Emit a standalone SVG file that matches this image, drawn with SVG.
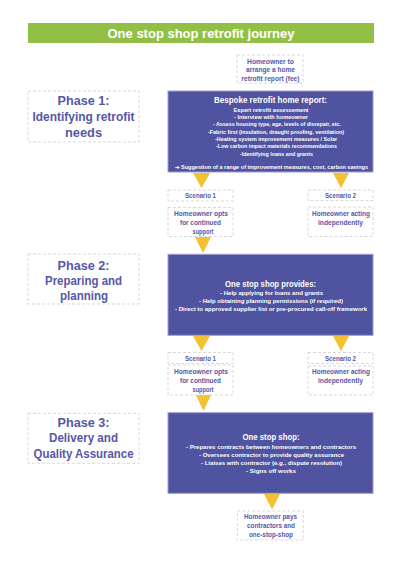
<svg xmlns="http://www.w3.org/2000/svg" width="402" height="569" viewBox="0 0 402 569">
<style>
text{font-family:"Liberation Sans",Arial,sans-serif;font-weight:bold;text-anchor:middle}
.dash{fill:#ffffff;stroke:#cfcfd4;stroke-width:0.8;stroke-dasharray:3 2}
.main{fill:#5053a0;stroke:#9c9ecd;stroke-width:1}
.tri{fill:#f2c232}
.ph{fill:#5558a8;font-size:12px}
.lt{fill:#5558a8;font-size:6.5px}
.wt{fill:#ffffff}
.h{font-size:9px}
.s{font-size:5px}
</style>
<rect width="402" height="569" fill="#ffffff"/>
<g id="title">
<rect x="28" y="23" width="346" height="20" fill="#92c047"/>
<text x="201" y="37.5" fill="#ffffff" font-size="12.5" textLength="187" lengthAdjust="spacingAndGlyphs">One stop shop retrofit journey</text>
</g>
<g id="connectors">
<polygon class="tri" points="193,173 210,173 201.5,188"/>
<polygon class="tri" points="333,173 349,173 341,188"/>
<polygon class="tri" points="195,237 211,237 203,253"/>
<polygon class="tri" points="193,336 210,336 201.5,351"/>
<polygon class="tri" points="333,336 349,336 341,351"/>
<polygon class="tri" points="196,395 211,395 203.5,411"/>
<polygon class="tri" points="264,494 280,494 272,509.5"/>
</g>
<g id="arrange">
<rect class="dash" x="237" y="55" width="66" height="28"/>
<text class="lt" x="270.5" y="63.5" textLength="47" lengthAdjust="spacingAndGlyphs">Homeowner to</text>
<text class="lt" x="270.5" y="72" textLength="49" lengthAdjust="spacingAndGlyphs">arrange a home</text>
<text class="lt" x="270.5" y="81" textLength="58" lengthAdjust="spacingAndGlyphs">retrofit report (fee)</text>
</g>
<g id="phase1">
<rect class="dash" x="28" y="91" width="111" height="51"/>
<text class="ph" x="83.5" y="105" textLength="52" lengthAdjust="spacingAndGlyphs">Phase 1:</text>
<text class="ph" x="83.5" y="121" textLength="102" lengthAdjust="spacingAndGlyphs">Identifying retrofit</text>
<text class="ph" x="83.5" y="137" textLength="37" lengthAdjust="spacingAndGlyphs">needs</text>
</g>
<g id="report">
<rect class="main" x="168" y="91" width="205" height="81"/>
<text class="wt h" x="270.5" y="103.2" textLength="113" lengthAdjust="spacingAndGlyphs">Bespoke retrofit home report:</text>
<text class="wt" font-size="5.8" x="271" y="111.5" textLength="75" lengthAdjust="spacingAndGlyphs">Expert retrofit assessement</text>
<text class="wt s" x="271" y="119.2" textLength="74" lengthAdjust="spacingAndGlyphs">- Interview with homeowner</text>
<text class="wt s" x="277" y="126.2" textLength="128" lengthAdjust="spacingAndGlyphs">- Assess housing type, age, levels of disrepair, etc.</text>
<text class="wt s" x="276" y="133.6" textLength="136" lengthAdjust="spacingAndGlyphs">-Fabric first (insulation, draught proofing, ventilation)</text>
<text class="wt s" x="276" y="140.9" textLength="122" lengthAdjust="spacingAndGlyphs">-Heating system improvement measures / Solar</text>
<text class="wt s" x="276.5" y="148.2" textLength="121" lengthAdjust="spacingAndGlyphs">-Low carbon impact materials recommendations</text>
<text class="wt s" x="276.5" y="156.2" textLength="73" lengthAdjust="spacingAndGlyphs">-Identifying loans and grants</text>
<text class="wt s" x="271.5" y="168.6" textLength="193" lengthAdjust="spacingAndGlyphs">➔ Suggestion of a range of improvement measures, cost, carbon savings</text>
</g>
<g id="s1a">
<rect class="dash" x="168" y="190" width="65" height="11"/>
<text class="lt" x="200.5" y="198" textLength="31" lengthAdjust="spacingAndGlyphs">Scenario 1</text>
</g>
<g id="s2a">
<rect class="dash" x="308" y="190" width="65" height="10.5"/>
<text class="lt" x="340.5" y="197.7" textLength="31" lengthAdjust="spacingAndGlyphs">Scenario 2</text>
</g>
<g id="optsa">
<rect class="dash" x="168" y="207.5" width="65" height="29"/>
<text class="lt" x="201" y="216.3" textLength="54" lengthAdjust="spacingAndGlyphs">Homeowner opts</text>
<text class="lt" x="200.5" y="224.6" textLength="41" lengthAdjust="spacingAndGlyphs">for continued</text>
<text class="lt" x="203" y="233.6" textLength="21" lengthAdjust="spacingAndGlyphs">support</text>
</g>
<g id="indepa">
<rect class="dash" x="308" y="207" width="65" height="29.5"/>
<text class="lt" x="341" y="216.3" textLength="58" lengthAdjust="spacingAndGlyphs">Homeowner acting</text>
<text class="lt" x="340.5" y="224.6" textLength="45" lengthAdjust="spacingAndGlyphs">independently</text>
</g>
<g id="phase2">
<rect class="dash" x="28" y="254" width="111" height="50"/>
<text class="ph" x="83.5" y="270" textLength="52" lengthAdjust="spacingAndGlyphs">Phase 2:</text>
<text class="ph" x="83.5" y="285" textLength="77" lengthAdjust="spacingAndGlyphs">Preparing and</text>
<text class="ph" x="84" y="300" textLength="48" lengthAdjust="spacingAndGlyphs">planning</text>
</g>
<g id="provides">
<rect class="main" x="168" y="254.3" width="205" height="81"/>
<text class="wt h" x="270.5" y="286.5" textLength="91" lengthAdjust="spacingAndGlyphs">One stop shop provides:</text>
<text class="wt s" x="271.5" y="294.5" textLength="103" lengthAdjust="spacingAndGlyphs">-   Help applying for loans and grants</text>
<text class="wt s" x="271" y="302.5" textLength="144" lengthAdjust="spacingAndGlyphs">-   Help obtaining planning permissions (if required)</text>
<text class="wt s" x="271" y="310.5" textLength="192" lengthAdjust="spacingAndGlyphs">-   Direct to approved supplier list or pre-procured call-off framework</text>
</g>
<g id="s1b">
<rect class="dash" x="168" y="352.5" width="65" height="11"/>
<text class="lt" x="200.5" y="360.5" textLength="31" lengthAdjust="spacingAndGlyphs">Scenario 1</text>
</g>
<g id="s2b">
<rect class="dash" x="308" y="352.5" width="65" height="11"/>
<text class="lt" x="340.5" y="360.5" textLength="31" lengthAdjust="spacingAndGlyphs">Scenario 2</text>
</g>
<g id="optsb">
<rect class="dash" x="168" y="365" width="65" height="30"/>
<text class="lt" x="201" y="374" textLength="54" lengthAdjust="spacingAndGlyphs">Homeowner opts</text>
<text class="lt" x="200.5" y="383" textLength="41" lengthAdjust="spacingAndGlyphs">for continued</text>
<text class="lt" x="203" y="391.6" textLength="21" lengthAdjust="spacingAndGlyphs">support</text>
</g>
<g id="indepb">
<rect class="dash" x="308" y="366" width="65" height="29"/>
<text class="lt" x="341" y="374" textLength="58" lengthAdjust="spacingAndGlyphs">Homeowner acting</text>
<text class="lt" x="340.5" y="383" textLength="45" lengthAdjust="spacingAndGlyphs">independently</text>
</g>
<g id="phase3">
<rect class="dash" x="28" y="413.3" width="111" height="50"/>
<text class="ph" x="83.5" y="426.5" textLength="52" lengthAdjust="spacingAndGlyphs">Phase 3:</text>
<text class="ph" x="83.5" y="441.5" textLength="69" lengthAdjust="spacingAndGlyphs">Delivery and</text>
<text class="ph" x="83.5" y="458" textLength="100" lengthAdjust="spacingAndGlyphs">Quality Assurance</text>
</g>
<g id="delivery">
<rect class="main" x="168" y="412.7" width="205" height="80.6"/>
<text class="wt h" x="271" y="439.8" textLength="57" lengthAdjust="spacingAndGlyphs">One stop shop:</text>
<text class="wt s" x="271" y="448.5" textLength="170" lengthAdjust="spacingAndGlyphs">-     Prepares contracts between homeowners and contractors</text>
<text class="wt s" x="271.5" y="456.5" textLength="145" lengthAdjust="spacingAndGlyphs">-     Oversees contractor to provide quality assurance</text>
<text class="wt s" x="271.5" y="464.5" textLength="141" lengthAdjust="spacingAndGlyphs">-     Liaises with contractor (e.g., dispute resolution)</text>
<text class="wt s" x="271" y="472.8" textLength="50" lengthAdjust="spacingAndGlyphs">-     Signs off works</text>
</g>
<g id="pays">
<rect class="dash" x="237.3" y="511" width="66" height="29"/>
<text class="lt" x="270.5" y="519" textLength="53" lengthAdjust="spacingAndGlyphs">Homeowner pays</text>
<text class="lt" x="271" y="528" textLength="48" lengthAdjust="spacingAndGlyphs">contractors and</text>
<text class="lt" x="271" y="537" textLength="44" lengthAdjust="spacingAndGlyphs">one-stop-shop</text>
</g>
</svg>
